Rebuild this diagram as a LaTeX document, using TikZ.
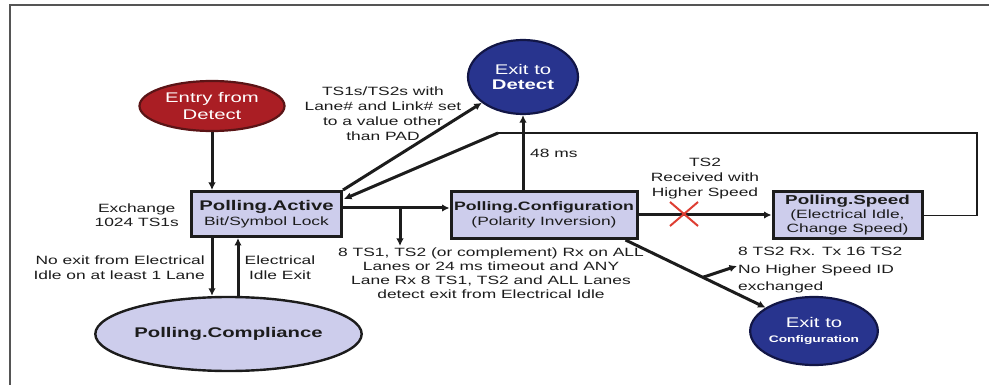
\documentclass[tikz,border=0pt]{standalone}
\usepackage{fontspec}
\setmainfont{Liberation Sans}[FakeStretch=1.45]
\usetikzlibrary{arrows.meta,calc,shapes.geometric}

\definecolor{lav}{RGB}{205,205,236}
\definecolor{entryred}{RGB}{170,30,36}
\definecolor{entryedge}{RGB}{90,20,22}
\definecolor{exitblue}{RGB}{40,52,142}
\definecolor{exitedge}{RGB}{18,22,70}
\definecolor{ink}{RGB}{28,28,28}
\definecolor{framegray}{RGB}{85,85,85}
\definecolor{xred}{RGB}{222,62,50}

\tikzset{
  statebox/.style={rectangle, draw=ink, line width=3pt, fill=lav, inner sep=0pt,
    align=center, text=ink, font=\fontsize{12}{15}\selectfont},
  stateoval/.style={ellipse, draw=ink, line width=2.4pt, fill=lav, inner sep=0pt,
    align=center, text=ink},
  entryoval/.style={ellipse, draw=entryedge, line width=2.2pt, fill=entryred, inner sep=0pt,
    align=center, text=white, font=\fontsize{14}{16.5}\selectfont},
  exitoval/.style={ellipse, draw=exitedge, line width=2.2pt, fill=exitblue, inner sep=0pt,
    align=center, text=white, font=\fontsize{14}{15}\selectfont},
  lbl/.style={inner sep=0pt, text=ink, font=\fontsize{12}{14}\selectfont},
  arr/.style={draw=ink, line width=3pt, -{Latex[length=7.5pt,width=7.5pt]}},
  loopline/.style={draw=ink, line width=1.6pt},
  xmark/.style={draw=xred, line width=2pt},
}

\begin{document}
\begin{tikzpicture}[x=1pt,y=-1pt]
\useasboundingbox (0,0) rectangle (989,385);

% outer frame
\draw[framegray, line width=2.4pt] (989,5) -- (10,5) -- (10,385);

% states
\node[entryoval, minimum width=145pt, minimum height=50pt] (entry) at (212,106)
  {Entry from\\Detect};
\node[exitoval, minimum width=110pt, minimum height=74pt] (exd) at (523,77)
  {Exit to\\{\bfseries Detect}};
\node[statebox, minimum width=150pt, minimum height=45pt] (act) at (266.5,214)
  {{\fontsize{14}{15}\selectfont\bfseries Polling.Active}\\Bit/Symbol Lock};
\node[statebox, minimum width=186pt, minimum height=47pt] (conf) at (544,215)
  {{\fontsize{12.2}{15}\selectfont\bfseries Polling.Configuration}\\(Polarity Inversion)};
\node[statebox, minimum width=149pt, minimum height=47pt, font=\fontsize{12}{14}\selectfont]
  (spd) at (847.5,215.5)
  {{\fontsize{13}{14}\selectfont\bfseries Polling.Speed}\\(Electrical Idle,\\Change Speed)};
\node[stateoval, minimum width=233pt, minimum height=74pt] (comp) at (228.5,334)
  {\fontsize{14}{15}\selectfont\bfseries Polling.Compliance};
\node[exitoval, minimum width=108pt, minimum height=68pt] (exc) at (814,331)
  {Exit to\\{\fontsize{9.5}{15}\selectfont\bfseries Configuration}};

% helper points
\path ($(act.east)+(0,-6)$) coordinate (aout);
\path (aout -| conf.west) coordinate (cin);
\coordinate (br) at (400,208);
\coordinate (brend) at (400,246);
\coordinate (loopTR) at (977,133);
\coordinate (loopTL) at (498,133);
\coordinate (xc) at (684,214);
\path ($(act.north east)+(1,9)$) coordinate (loopin);
\path ($(conf.south east)+(-13,0)$) coordinate (dstart);
\path ($(dstart)!0.41!(exc.center)$) coordinate (b2);
\coordinate (b2end) at (737,266);
\path ($(act.south)+(-54.5,0)$) coordinate (dnA);
\path ($(comp.north)+(-16.5,0)$) coordinate (dnB);
\path ($(comp.north)+(9.5,0)$) coordinate (upA);
\path ($(act.south)+(-28.5,0)$) coordinate (upB);

% transitions
\draw[arr] (entry.south) -- (entry.south |- act.north);
\draw[arr] (aout) -- (cin);
\draw[arr] (br) -- (brend);
\draw[arr] (exd.south |- conf.north) -- (exd.south);
\draw[arr] (act.north east) -- (exd);
\draw[loopline] (spd.east) -| (loopTR) -- (loopTL);
\draw[arr] (loopTL) -- (loopin);
\draw[arr] (conf.east) -- (conf.east -| spd.west);
\draw[arr] (dnA) -- (dnB);
\draw[arr] (upA) -- (upB);
\draw[arr] (dstart) -- (exc);
\draw[arr] (b2) -- (b2end);

% blocked speed change
\draw[xmark] ($(xc)+(-14,-12)$) -- ($(xc)+(14,12)$);
\draw[xmark] ($(xc)+(-14,12)$) -- ($(xc)+(14,-12)$);

% transition labels
\node[lbl, align=center, font=\fontsize{12}{15}\selectfont] (lblpad) at (383,113.5)
  {TS1s/TS2s with\\Lane\# and Link\# set\\to a value other\\than PAD};
\node[lbl, anchor=west] (lbl48) at (530,153) {48 ms};
\node[lbl, align=center, font=\fontsize{12}{15}\selectfont] (lblts2) at (705,179)
  {TS2\\Received with\\Higher Speed};
\node[lbl, align=center, anchor=east] (lblexch) at (179,215)
  {Exchange\\1024 TS1s};
\node[lbl, align=right, anchor=east, font=\fontsize{12}{15}\selectfont] (lblnoexit) at (205,267.5)
  {No exit from Electrical\\Idle on at least 1 Lane};
\node[lbl, align=center, font=\fontsize{12}{15}\selectfont] (lblidle) at (280,267.5)
  {Electrical\\Idle Exit};
\node[lbl, align=center] (lblts1) at (491,273)
  {8 TS1, TS2 (or complement) Rx on ALL\\Lanes or 24 ms timeout and ANY\\
   Lane Rx 8 TS1, TS2 and ALL Lanes\\detect exit from Electrical Idle};
\node[lbl, align=left, anchor=west, font=\fontsize{12}{17.5}\selectfont] (lblspd) at (738,270.5)
  {8 TS2 Rx. Tx 16 TS2\\No Higher Speed ID\\exchanged};
\end{tikzpicture}
\end{document}
